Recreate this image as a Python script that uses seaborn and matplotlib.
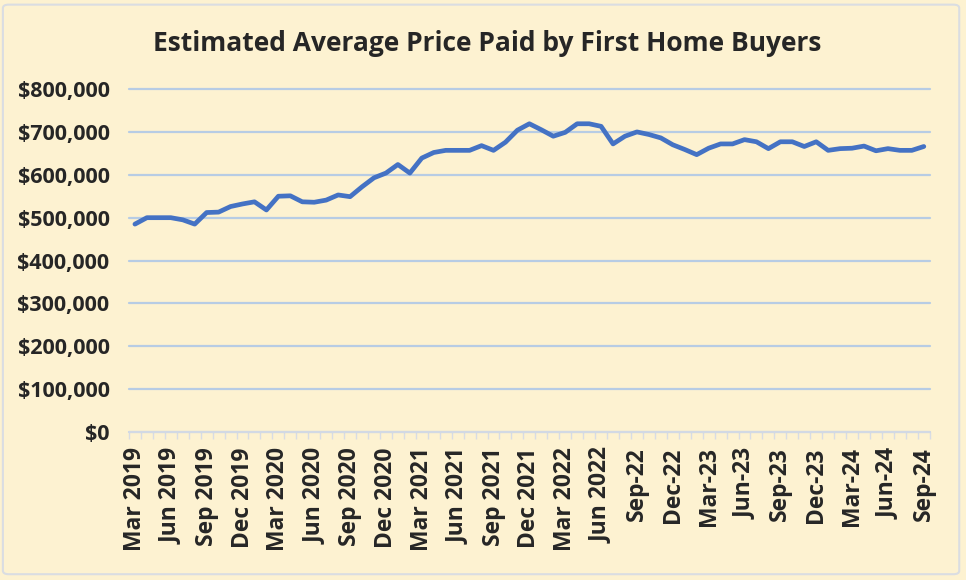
import matplotlib
matplotlib.use("Agg")
import matplotlib.pyplot as plt
import matplotlib.patches as mpatches
from matplotlib.ticker import FuncFormatter, FixedLocator
import seaborn as sns
import pandas as pd
import numpy as np

# Monthly estimated average price (AUD), Mar 2019 .. Sep 2024
prices = [
    485000, 500000, 500000, 500000, 495000, 485000, 512000, 513000, 526000, 532000,
    537000, 518000, 550000, 551000, 537000, 536000, 541000, 553000, 549000, 572000,
    593000, 604000, 624000, 604000, 639000, 652000, 657000, 657000, 657000, 668000,
    657000, 676000, 704000, 719000, 705000, 690000, 699000, 719000, 719000, 713000,
    672000, 690000, 700000, 694000, 686000, 670000, 659000, 647000, 662000, 672000,
    672000, 682000, 677000, 661000, 677000, 677000, 666000, 677000, 657000, 661000,
    662000, 667000, 656000, 661000, 657000, 657000, 666000,
]
months = list(pd.date_range("2019-03-01", periods=len(prices), freq="MS").strftime("%b %Y"))
tick_labels = [
    "Mar 2019", "Jun 2019", "Sep 2019", "Dec 2019", "Mar 2020", "Jun 2020",
    "Sep 2020", "Dec 2020", "Mar 2021", "Jun 2021", "Sep 2021", "Dec 2021",
    "Mar 2022", "Jun 2022", "Sep-22", "Dec-22", "Mar-23", "Jun-23", "Sep-23",
    "Dec-23", "Mar-24", "Jun-24", "Sep-24",
]
y_ticks = [0, 100000, 200000, 300000, 400000, 500000, 600000, 700000, 800000]

df = pd.DataFrame({"month": months, "price": prices, "pos": np.arange(len(prices))})

sns.set_theme(style="white")
plt.rcParams["font.family"] = ["Open Sans", "DejaVu Sans"]

bg = "#FDF2D1"
txt = "#262626"
fig = plt.figure(figsize=(9.66, 5.80), dpi=100, facecolor=bg)
ax = fig.add_axes([0.1335, 0.255, 0.829, 0.5915])
ax.set_facecolor(bg)

sns.lineplot(data=df, x="pos", y="price", ax=ax, color="#4472C4", linewidth=3.4,
             solid_joinstyle="round", solid_capstyle="round", zorder=3)

ax.set_ylim(0, 800000)
ax.set_xlim(-0.5, len(prices) - 0.5)
ax.yaxis.set_major_locator(FixedLocator(y_ticks))
ax.yaxis.set_major_formatter(FuncFormatter(lambda v, p: f"${int(v):,}"))
ax.grid(axis="y", color="#B7CCE4", linewidth=1.6, zorder=0)
ax.grid(axis="x", visible=False)
for gl in ax.get_ygridlines():
    gl.set_clip_on(False)

ax.set_xticks(np.arange(0, len(prices), 3))
ax.set_xticklabels(tick_labels, rotation=90, fontsize=16.5, fontweight="bold", color=txt)
ax.set_xticks(np.arange(-0.5, len(prices), 1), minor=True)
ax.tick_params(axis="x", which="major", length=0, pad=11)
ax.tick_params(axis="x", which="minor", length=5, color="#D8DCE4", width=1, bottom=True)
ax.tick_params(axis="y", length=0, pad=14)
for lab in ax.get_yticklabels():
    lab.set_fontweight("bold")
    lab.set_fontsize(15.5)
    lab.set_color(txt)

for s in ["top", "right", "left"]:
    ax.spines[s].set_visible(False)
ax.spines["bottom"].set_color("#D8DCE4")
ax.spines["bottom"].set_linewidth(1.2)
ax.set_xlabel("")
ax.set_ylabel("")

fig.text(0.504, 0.925, "Estimated Average Price Paid by First Home Buyers",
         ha="center", va="center", fontsize=19, fontweight="bold", color=txt)

border = mpatches.FancyBboxPatch((0.003, 0.01), 0.99, 0.982, boxstyle="round,pad=0,rounding_size=0.006",
                                 transform=fig.transFigure, fill=False, edgecolor="#DADDE2", linewidth=1.5)
fig.patches.append(border)

fig.savefig("out.png", dpi=100, facecolor=bg)
